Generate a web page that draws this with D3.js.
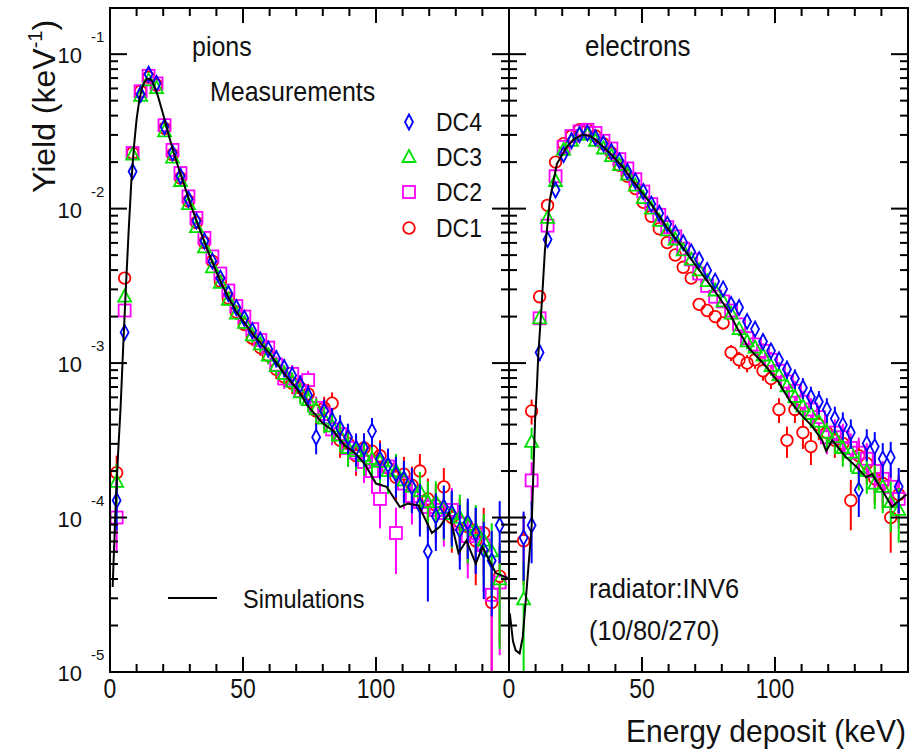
<!DOCTYPE html>
<html><head><meta charset="utf-8">
<script src="https://cdn.jsdelivr.net/npm/d3@7"></script>
<style>
body{margin:0;background:#fff}
svg{display:block}
text{font-family:"Liberation Sans",Arial,Helvetica,sans-serif;fill:#111}
</style>
</head><body>
<svg id="chart" width="914" height="753"></svg>
<script>
// ---------------- DATA ----------------
const binE = [2.5,5.5,8.5,11.5,14.5,17.5,20.5,23.5,26.5,29.5,32.5,35.5,38.5,41.5,44.5,47.5,50.5,53.5,56.5,59.5,62.5,65.5,68.5,71.5,74.5,77.5,80.5,83.5,86.5,89.5,92.5,95.5,98.5,101.5,104.5,107.5,110.5,113.5,116.5,119.5,122.5,125.5,128.5,131.5,134.5,137.5,140.5,143.5,146.5];

const pionDC1 = [1.95e-4,3.55e-3,2.29e-2,5.75e-2,7.08e-2,6.31e-2,3.31e-2,2.24e-2,1.58e-2,1.12e-2,8.13e-3,6.03e-3,4.57e-3,3.39e-3,2.63e-3,2.14e-3,1.78e-3,1.45e-3,1.26e-3,1.12e-3,9.12e-4,8.13e-4,7.41e-4,6.92e-4,6.31e-4,4.90e-4,5.13e-4,5.50e-4,3.16e-4,3.02e-4,2.51e-4,2.82e-4,2.69e-4,2.51e-4,2.09e-4,1.82e-4,1.91e-4,1.62e-4,2.00e-4,1.32e-4,1.20e-4,1.58e-4,1.00e-4,9.33e-5,8.71e-5,7.08e-5,7.94e-5,2.82e-5,4.17e-5];
const pionDC2 = [1.00e-4,2.19e-3,2.29e-2,5.75e-2,7.24e-2,6.46e-2,3.47e-2,2.40e-2,1.70e-2,1.20e-2,8.71e-3,6.46e-3,4.90e-3,3.80e-3,2.95e-3,2.34e-3,2.00e-3,1.66e-3,1.41e-3,1.26e-3,9.77e-4,7.94e-4,8.51e-4,6.61e-4,7.76e-4,5.13e-4,4.68e-4,3.72e-4,3.47e-4,2.82e-4,2.63e-4,2.29e-4,2.00e-4,1.32e-4,2.14e-4,7.94e-5,1.66e-4,1.38e-4,1.26e-4,1.17e-4,1.12e-4,1.07e-4,1.12e-4,9.12e-5,7.59e-5,7.94e-5,6.61e-5,3.16e-5,3.80e-5];
const pionDC3 = [1.70e-4,2.69e-3,2.24e-2,5.37e-2,6.76e-2,6.03e-2,3.16e-2,2.14e-2,1.51e-2,1.07e-2,7.59e-3,5.62e-3,4.17e-3,3.31e-3,2.57e-3,2.09e-3,1.82e-3,1.51e-3,1.32e-3,1.12e-3,9.55e-4,8.51e-4,7.59e-4,6.46e-4,5.75e-4,5.01e-4,4.37e-4,3.89e-4,3.39e-4,2.82e-4,2.69e-4,2.51e-4,2.40e-4,2.29e-4,2.00e-4,2.00e-4,1.74e-4,1.58e-4,1.48e-4,1.26e-4,1.26e-4,1.15e-4,1.05e-4,1.00e-4,8.91e-5,8.32e-5,7.08e-5,6.03e-5,3.98e-5];
const pionDC4 = [1.29e-4,1.58e-3,1.74e-2,5.50e-2,7.41e-2,6.46e-2,3.39e-2,2.29e-2,1.62e-2,1.15e-2,8.32e-3,6.17e-3,4.57e-3,3.55e-3,2.82e-3,2.29e-3,1.95e-3,1.62e-3,1.41e-3,1.23e-3,1.07e-3,9.33e-4,8.32e-4,7.24e-4,6.17e-4,3.31e-4,4.90e-4,4.27e-4,3.80e-4,3.31e-4,2.82e-4,2.82e-4,3.63e-4,2.40e-4,2.19e-4,1.91e-4,1.78e-4,1.58e-4,1.20e-4,6.03e-5,1.02e-4,1.17e-4,1.07e-4,8.32e-5,9.33e-5,7.94e-5,6.17e-5,5.25e-5,8.91e-5];

const elecDC1 = [null,7.08e-5,4.90e-4,2.69e-3,1.05e-2,2.00e-2,2.63e-2,2.95e-2,3.24e-2,3.24e-2,2.95e-2,2.63e-2,2.29e-2,1.91e-2,1.62e-2,1.35e-2,1.10e-2,8.91e-3,7.41e-3,6.03e-3,5.01e-3,4.17e-3,3.55e-3,2.40e-3,2.19e-3,2.00e-3,1.82e-3,1.17e-3,1.05e-3,1.00e-3,1.05e-3,8.91e-4,7.94e-4,5.01e-4,3.16e-4,5.01e-4,3.55e-4,2.88e-4,3.98e-4,3.55e-4,3.16e-4,3.02e-4,1.29e-4,2.51e-4,2.24e-4,1.78e-4,1.66e-4,1.00e-4,1.41e-4];
const elecDC2 = [null,null,1.74e-4,1.95e-3,7.76e-3,1.62e-2,2.51e-2,2.95e-2,3.16e-2,3.24e-2,3.09e-2,2.75e-2,2.45e-2,2.09e-2,1.82e-2,1.55e-2,1.29e-2,1.07e-2,9.12e-3,7.59e-3,6.61e-3,5.50e-3,4.68e-3,3.80e-3,3.16e-3,2.69e-3,2.51e-3,2.19e-3,1.78e-3,1.45e-3,1.32e-3,1.20e-3,1.05e-3,8.91e-4,7.59e-4,6.61e-4,5.62e-4,5.01e-4,4.47e-4,3.31e-4,3.55e-4,3.31e-4,2.82e-4,2.63e-4,2.40e-4,2.00e-4,1.78e-4,1.58e-4,1.32e-4];
const elecDC3 = [null,2.95e-5,3.09e-4,1.95e-3,8.71e-3,1.51e-2,2.40e-2,2.75e-2,3.02e-2,3.02e-2,2.75e-2,2.45e-2,2.19e-2,1.91e-2,1.66e-2,1.41e-2,1.17e-2,1.00e-2,8.32e-3,7.24e-3,6.31e-3,5.37e-3,4.68e-3,3.98e-3,3.39e-3,2.95e-3,2.51e-3,2.09e-3,1.66e-3,1.38e-3,1.26e-3,1.12e-3,9.55e-4,8.32e-4,7.08e-4,6.03e-4,5.25e-4,4.68e-4,4.17e-4,3.55e-4,3.31e-4,2.82e-4,2.63e-4,2.09e-4,2.00e-4,1.66e-4,1.58e-4,1.26e-4,1.12e-4];
const elecDC4 = [null,7.41e-5,8.91e-5,1.17e-3,6.31e-3,1.32e-2,2.24e-2,2.75e-2,3.02e-2,3.09e-2,2.88e-2,2.63e-2,2.34e-2,2.04e-2,1.74e-2,1.51e-2,1.29e-2,1.07e-2,9.33e-3,7.94e-3,6.92e-3,6.03e-3,5.25e-3,4.68e-3,3.98e-3,3.39e-3,3.02e-3,2.40e-3,2.29e-3,1.86e-3,1.66e-3,1.38e-3,1.20e-3,1.05e-3,9.12e-4,7.94e-4,6.92e-4,6.03e-4,5.62e-4,5.01e-4,4.37e-4,3.98e-4,3.55e-4,1.51e-4,3.02e-4,2.88e-4,2.40e-4,2.45e-4,1.58e-4];

const simPionE = [1,2,3,4,5,6,7,8,9,10,11,12,13,14,15,16,18,20,22,24,26,28,30,33,36,39,42,45,48,51,54,57,60,63,66,69,72,74,77,80,84,88,92,96,100,104,109,112,116,121,124,127.5,131,134,137.5,140,145,149.5];
const simPionY = [3.55e-5,1.05e-4,2.51e-4,5.25e-4,1.32e-3,3.16e-3,7.08e-3,1.48e-2,2.51e-2,3.80e-2,5.01e-2,6.03e-2,6.61e-2,6.92e-2,6.92e-2,6.61e-2,5.37e-2,4.07e-2,3.02e-2,2.29e-2,1.78e-2,1.41e-2,1.10e-2,7.94e-3,5.75e-3,4.27e-3,3.24e-3,2.57e-3,2.09e-3,1.78e-3,1.51e-3,1.32e-3,1.15e-3,9.77e-4,8.32e-4,7.24e-4,6.17e-4,5.37e-4,4.68e-4,4.07e-4,3.63e-4,2.95e-4,2.63e-4,2.19e-4,1.66e-4,1.58e-4,1.17e-4,1.23e-4,1.20e-4,7.94e-5,8.71e-5,1.07e-4,5.89e-5,7.08e-5,5.01e-5,6.46e-5,4.37e-5,4.07e-5];

const simElecE = [0.3,1.5,2.5,4,5.2,6.7,8.5,9.2,9.8,10.5,11,12.4,13.5,15.4,18,21.75,24.5,27.75,30.5,33,37.9,42.75,46.5,52.9,59.25,65.25,71.6,78,82,86,90,96,101.6,105.4,109,114,117.75,119.25,121.5,126.75,130.5,134.25,136.5,140.25,144,146.6,149.5];
const simElecY = [2.40e-5,1.58e-5,1.38e-5,1.32e-5,1.70e-5,3.55e-5,8.71e-5,2.04e-4,4.27e-4,7.08e-4,1.12e-3,2.57e-3,5.37e-3,1.15e-2,1.95e-2,2.51e-2,2.82e-2,3.02e-2,2.95e-2,2.75e-2,2.29e-2,1.86e-2,1.51e-2,1.10e-2,7.59e-3,5.62e-3,3.98e-3,2.82e-3,2.24e-3,1.66e-3,1.26e-3,9.77e-4,7.41e-4,5.75e-4,4.79e-4,3.89e-4,3.16e-4,2.69e-4,3.16e-4,2.45e-4,2.14e-4,1.82e-4,1.91e-4,1.51e-4,1.17e-4,1.29e-4,1.41e-4];

const seriesNames = ["DC4","DC3","DC2","DC1"];
const seriesColors = {DC1:"#ff0000", DC2:"#ff00ff", DC3:"#00e000", DC4:"#0000ff"};
const seriesMarkers = {DC1:"circle", DC2:"square", DC3:"triangle", DC4:"diamond"};
const eventsPerSeries = 60000; // statistical error model for error bars
const xTickLabels = ["0","50","100"];
const yTickExponents = ["-1","-2","-3","-4","-5"];

// ---------------- LAYOUT ----------------
const svg = d3.select("#chart");
const plotTop = 8, plotBottom = 672;
const y = d3.scaleLog().domain([1e-5, 0.199]).range([plotBottom, plotTop]);
const panels = [
  {id:"pions", x0:110, x1:509, data:{DC1:pionDC1,DC2:pionDC2,DC3:pionDC3,DC4:pionDC4}, simE:simPionE, simY:simPionY},
  {id:"electrons", x0:509, x1:908, data:{DC1:elecDC1,DC2:elecDC2,DC3:elecDC3,DC4:elecDC4}, simE:simElecE, simY:simElecY}
];
panels.forEach(p => { p.x = d3.scaleLinear().domain([0,150]).range([p.x0,p.x1]); });

const defs = svg.append("defs");
panels.forEach(p => {
  defs.append("clipPath").attr("id","clip-"+p.id)
    .append("rect").attr("x",p.x0).attr("y",plotTop).attr("width",p.x1-p.x0).attr("height",plotBottom-plotTop);
});

const MSW = 1.8;
function markerExtent(type){
  return {circle:[6,6], square:[6,6], triangle:[7,5], diamond:[7.5,7.5]}[type];
}
function drawMarker(g, type, cx, cy, color){
  let el;
  if(type==="circle") el = g.append("circle").attr("cx",cx).attr("cy",cy).attr("r",5.8);
  else if(type==="square") el = g.append("rect").attr("x",cx-6).attr("y",cy-6).attr("width",12).attr("height",12);
  else if(type==="triangle") el = g.append("path").attr("d",`M${cx},${cy-7}L${cx+6.5},${cy+5}L${cx-6.5},${cy+5}Z`);
  else el = g.append("path").attr("d",`M${cx},${cy-7.5}L${cx+4},${cy}L${cx},${cy+7.5}L${cx-4},${cy}Z`);
  el.attr("fill","none").attr("stroke",color).attr("stroke-width",MSW);
}

// data + sim
const drawOrder = ["DC1","DC2","DC3","DC4"];
panels.forEach(p => {
  const g = svg.append("g").attr("clip-path",`url(#clip-${p.id})`);
  drawOrder.forEach(name => {
    const vals = p.data[name], col = seriesColors[name], mk = seriesMarkers[name];
    const gs = g.append("g");
    const ext = markerExtent(mk);
    vals.forEach((v,i) => {
      if(v==null) return;
      const cx = p.x(binE[i]), cy = y(v);
      const s = Math.sqrt(v/eventsPerSeries);
      const hi = y(v+s);
      const lo = (v-s) > 1e-5 ? y(v-s) : plotBottom+2;
      if(hi < cy-ext[0]) gs.append("line").attr("x1",cx).attr("x2",cx).attr("y1",hi).attr("y2",cy-ext[0]).attr("stroke",col).attr("stroke-width",2);
      if(lo > cy+ext[1]) gs.append("line").attr("x1",cx).attr("x2",cx).attr("y1",cy+ext[1]).attr("y2",lo).attr("stroke",col).attr("stroke-width",2);
      drawMarker(gs, mk, cx, cy, col);
    });
  });
  const line = d3.line().x((d,i)=>p.x(p.simE[i])).y(d=>y(d));
  g.append("path").datum(p.simY).attr("d",line).attr("fill","none").attr("stroke","#000").attr("stroke-width",2);
});

// frames + ticks
const axG = svg.append("g").attr("stroke","#000").attr("stroke-width",2);
panels.forEach(p => {
  axG.append("rect").attr("x",p.x0).attr("y",plotTop).attr("width",p.x1-p.x0).attr("height",plotBottom-plotTop).attr("fill","none");
  p.x.ticks(15).forEach(v => {
    const major = v % 50 === 0;
    const L = major ? 15 : 8;
    const xx = p.x(v);
    axG.append("line").attr("x1",xx).attr("x2",xx).attr("y1",plotBottom).attr("y2",plotBottom-L);
    axG.append("line").attr("x1",xx).attr("x2",xx).attr("y1",plotTop).attr("y2",plotTop+L);
  });
  y.ticks().forEach(v => {
    const e = Math.log10(v);
    const major = Math.abs(e-Math.round(e))<1e-6;
    const L = major ? 17 : 8;
    const yy = y(v);
    axG.append("line").attr("x1",p.x0).attr("x2",p.x0+L).attr("y1",yy).attr("y2",yy);
    axG.append("line").attr("x1",p.x1).attr("x2",p.x1-L).attr("y1",yy).attr("y2",yy);
  });
});

// tick labels
function stext(s, x, yb, fs, anchor, sy){
  return svg.append("text").attr("transform",`translate(${x},${yb}) scale(1,${sy||1})`)
    .attr("text-anchor",anchor||"start").attr("font-size",fs).text(s);
}
panels.forEach(p => {
  xTickLabels.forEach(t => stext(t, p.x(+t), 698, 23, "middle", 1.2));
});
yTickExponents.forEach(ex => {
  const yy = y(Math.pow(10, +ex));
  stext("10", 82, yy+9, 22, "end", 1);
  stext(ex, 91, yy-12, 15, "start", 1);
});

// axis titles
stext("Energy deposit (keV)", 906, 742, 30, "end", 1.05);
const yt = svg.append("text").attr("transform","translate(55,193) rotate(-90)").attr("font-size",32);
yt.append("tspan").text("Yield (keV");
yt.append("tspan").attr("font-size",20).attr("dy",-13).text("-1");
yt.append("tspan").attr("dy",13).text(")");

// annotations
stext("pions", 192, 56, 25, "start", 1.1);
stext("Measurements", 210, 101, 25, "start", 1.1);
stext("electrons", 585, 56, 26, "start", 1.1);
stext("radiator:INV6", 589, 598, 25.5, "start", 1.1);
stext("(10/80/270)", 589, 640, 25.5, "start", 1.1);
stext("Simulations", 243, 608, 23.5, "start", 1.1);
svg.append("line").attr("x1",168).attr("x2",217).attr("y1",598).attr("y2",598).attr("stroke","#000").attr("stroke-width",2);

// legend
const legY = {DC4:122, DC3:157, DC2:192, DC1:228};
seriesNames.forEach(n => {
  drawMarker(svg.append("g"), seriesMarkers[n], 409, legY[n], seriesColors[n]);
  stext(n, 436, legY[n]+9, 23, "start", 1.15);
});
</script>
</body></html>
